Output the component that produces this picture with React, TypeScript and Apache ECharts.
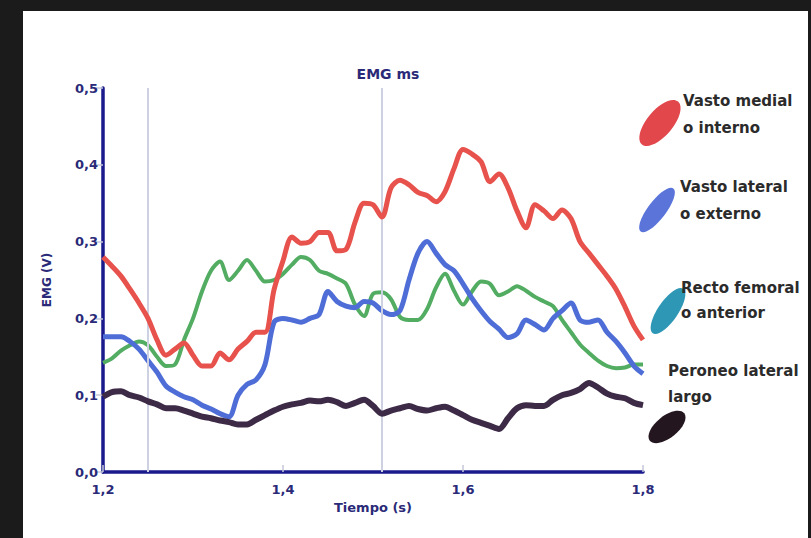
import React, { useEffect, useRef } from "react";
import * as echarts from "echarts";

const times = [
  1.2, 1.21, 1.22, 1.23, 1.24, 1.25, 1.26, 1.27, 1.28, 1.29,
  1.3, 1.31, 1.32, 1.33, 1.34, 1.35, 1.36, 1.37, 1.38, 1.39,
  1.4, 1.41, 1.42, 1.43, 1.44, 1.45, 1.46, 1.47, 1.48, 1.49,
  1.5, 1.51, 1.52, 1.53, 1.54, 1.55, 1.56, 1.57, 1.58, 1.59,
  1.6, 1.61, 1.62, 1.63, 1.64, 1.65, 1.66, 1.67, 1.68, 1.69,
  1.7, 1.71, 1.72, 1.73, 1.74, 1.75, 1.76, 1.77, 1.78, 1.79, 1.8,
];

const vastoMedial = [
  0.28, 0.268, 0.255, 0.238, 0.22, 0.2, 0.172, 0.152, 0.16, 0.168,
  0.152, 0.138, 0.138, 0.155, 0.146, 0.16, 0.17, 0.182, 0.182, 0.237,
  0.275, 0.306, 0.298, 0.3, 0.312, 0.312, 0.288, 0.29, 0.325, 0.35,
  0.348, 0.332, 0.37, 0.38, 0.374, 0.364, 0.36, 0.352, 0.365, 0.395,
  0.42, 0.414, 0.404, 0.378, 0.388, 0.37, 0.34, 0.318, 0.348, 0.34,
  0.33, 0.341, 0.33, 0.3, 0.285, 0.27, 0.255, 0.238, 0.215, 0.19, 0.172,
];

const vastoLateral = [
  0.176, 0.176, 0.176, 0.17, 0.16, 0.145, 0.13, 0.112, 0.104, 0.098,
  0.094, 0.087, 0.082, 0.076, 0.072, 0.1, 0.114, 0.12, 0.14, 0.195,
  0.2, 0.198, 0.195, 0.2, 0.205, 0.235, 0.222, 0.216, 0.214, 0.222,
  0.22, 0.21, 0.205, 0.21, 0.25, 0.285, 0.3, 0.285, 0.27, 0.262,
  0.245, 0.226, 0.21, 0.196, 0.186, 0.175, 0.18, 0.198, 0.192, 0.185,
  0.2, 0.21, 0.22, 0.198, 0.195, 0.198, 0.182, 0.17, 0.155, 0.138, 0.128,
];

const rectoFemoral = [
  0.142, 0.148, 0.158, 0.165, 0.17, 0.165, 0.15, 0.138, 0.14, 0.172,
  0.2, 0.235, 0.262, 0.274, 0.25, 0.262, 0.276, 0.262, 0.248, 0.25,
  0.258, 0.27, 0.28, 0.276, 0.262, 0.258, 0.252, 0.245, 0.218, 0.203,
  0.232, 0.234, 0.225, 0.202, 0.198, 0.198, 0.212, 0.24, 0.258, 0.236,
  0.218, 0.235, 0.248, 0.245, 0.23, 0.235, 0.242, 0.236, 0.228, 0.222,
  0.216, 0.198, 0.182, 0.166, 0.155, 0.145, 0.138, 0.135, 0.136, 0.14, 0.14,
];

const peroneoLateral = [
  0.098, 0.104, 0.105, 0.1, 0.097, 0.092, 0.088, 0.083, 0.083, 0.08,
  0.076, 0.072, 0.07, 0.067, 0.065, 0.062, 0.062, 0.068, 0.074, 0.08,
  0.085, 0.088, 0.09, 0.093, 0.092, 0.094, 0.091, 0.086, 0.09, 0.094,
  0.086, 0.076, 0.08, 0.083, 0.086, 0.082, 0.08, 0.083, 0.085, 0.08,
  0.074, 0.068, 0.064, 0.06, 0.056, 0.07, 0.083, 0.087, 0.086, 0.086,
  0.094, 0.1, 0.103, 0.108, 0.116, 0.11, 0.102, 0.098, 0.096, 0.09, 0.087,
];

const markerTimes = [1.247, 1.515];

const seriesNames = [
  "Vasto medial o interno",
  "Vasto lateral o externo",
  "Recto femoral o anterior",
  "Peroneo lateral largo",
];

const FONT = "DejaVu Sans";
const NAVY = "#2a2a78";

function pairs(vals: number[]) {
  return times.map((t, i) => [t, vals[i]]);
}

export default function App() {
  const ref = useRef<HTMLDivElement>(null);

  useEffect(() => {
    if (!ref.current) return;
    const chart = echarts.init(ref.current, undefined, { renderer: "svg" });

    const legendText = (x: number, y: number, text: string) => ({
      type: "text",
      x,
      y,
      style: {
        text,
        fill: "#2b2b2b",
        font: `bold 15px '${FONT}'`,
        textVerticalAlign: "middle",
      },
    });

    const blob = (cx: number, cy: number, rx: number, ry: number, rot: number, fill: string) => ({
      type: "ellipse",
      x: cx,
      y: cy,
      rotation: rot,
      shape: { cx: 0, cy: 0, rx, ry },
      style: { fill },
    });

    chart.setOption({
      animation: false,
      backgroundColor: "#1b1b1b",
      grid: { left: 103, right: 168, top: 88, bottom: 66, containLabel: false },
      xAxis: {
        type: "value",
        min: 1.2,
        max: 1.8,
        interval: 0.2,
        name: "Tiempo (s)",
        nameLocation: "middle",
        nameGap: 28,
        nameTextStyle: { color: NAVY, fontFamily: FONT, fontWeight: "bold", fontSize: 13 },
        axisLine: { lineStyle: { color: "#1a1a8c", width: 3.5 } },
        axisTick: { inside: true, length: 7, lineStyle: { color: "#c4c8d8", width: 1.5 } },
        axisLabel: {
          color: NAVY,
          fontFamily: FONT,
          fontWeight: "bold",
          fontSize: 13,
          margin: 11,
          formatter: (v: number) => v.toFixed(1).replace(".", ","),
        },
        splitLine: { show: false },
      },
      yAxis: {
        type: "value",
        min: 0,
        max: 0.5,
        interval: 0.1,
        name: "EMG (V)",
        nameLocation: "middle",
        nameGap: 50,
        nameRotate: 90,
        nameTextStyle: { color: NAVY, fontFamily: FONT, fontWeight: "bold", fontSize: 12 },
        axisLine: { show: true, lineStyle: { color: "#1a1a8c", width: 3.5 } },
        axisTick: { show: true, length: 7, lineStyle: { color: "#c4c8d8", width: 1.5 } },
        axisLabel: {
          color: NAVY,
          fontFamily: FONT,
          fontWeight: "bold",
          fontSize: 13,
          margin: 5,
          formatter: (v: number) => v.toFixed(1).replace(".", ","),
        },
        splitLine: { show: false },
      },
      graphic: [
        {
          type: "rect",
          z: -10,
          shape: { x: 23, y: 11, width: 785, height: 527 },
          style: { fill: "#ffffff" },
        },
        {
          type: "text",
          x: 388,
          y: 74,
          style: {
            text: "EMG ms",
            fill: NAVY,
            font: `bold 14px '${FONT}'`,
            textAlign: "center",
            textVerticalAlign: "middle",
          },
        },
        blob(660, 123, 13, 28, -0.7, "#e2474c"),
        blob(657, 210, 9, 27, -0.65, "#5a74da"),
        blob(668, 311, 10, 27, -0.6, "#2f97b6"),
        blob(667, 427, 11, 22, -0.9, "#24161f"),
        legendText(683, 101, "Vasto medial"),
        legendText(683, 128, "o interno"),
        legendText(680, 187, "Vasto lateral"),
        legendText(680, 214, "o externo"),
        legendText(681, 288, "Recto femoral"),
        legendText(681, 313, "o anterior"),
        legendText(668, 371, "Peroneo lateral"),
        legendText(668, 397, "largo"),
      ],
      series: [
        {
          name: seriesNames[2],
          type: "line",
          data: pairs(rectoFemoral),
          symbol: "none",
          smooth: 0.3,
          lineStyle: { color: "#52ad62", width: 4 },
          markLine: {
            silent: true,
            symbol: "none",
            label: { show: false },
            lineStyle: { color: "#cdd1e2", width: 2, type: "solid" },
            data: markerTimes.map((t) => ({ xAxis: t })),
          },
          z: 3,
        },
        {
          name: seriesNames[1],
          type: "line",
          data: pairs(vastoLateral),
          symbol: "none",
          smooth: 0.3,
          lineStyle: { color: "#4e6dd6", width: 5 },
          z: 4,
        },
        {
          name: seriesNames[0],
          type: "line",
          data: pairs(vastoMedial),
          symbol: "none",
          smooth: 0.3,
          lineStyle: { color: "#e8524c", width: 5 },
          z: 5,
        },
        {
          name: seriesNames[3],
          type: "line",
          data: pairs(peroneoLateral),
          symbol: "none",
          smooth: 0.3,
          lineStyle: { color: "#3d2a47", width: 6 },
          z: 6,
        },
      ],
    });

    return () => chart.dispose();
  }, []);

  return <div ref={ref} style={{ width: 811, height: 538, position: "absolute", left: 0, top: 0 }} />;
}
